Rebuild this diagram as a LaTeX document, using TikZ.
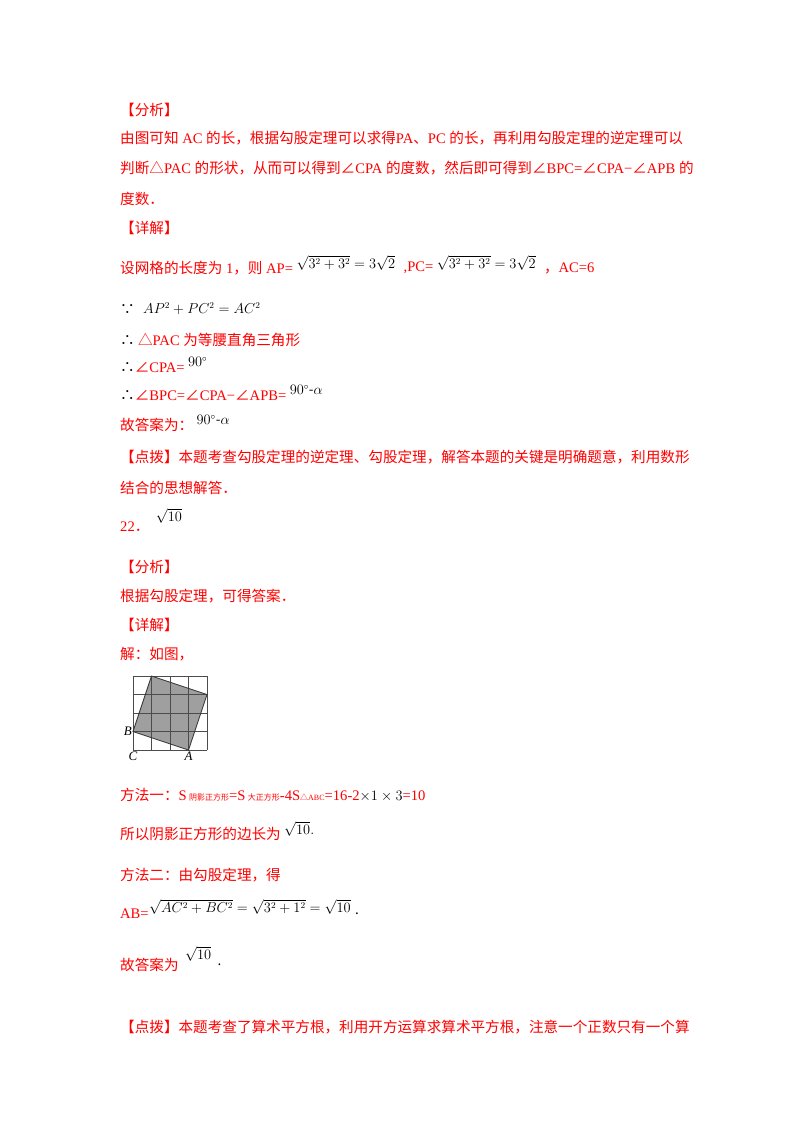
\documentclass[tikz,border=0pt]{standalone}
\usepackage{fontspec}
\setmainfont{Noto Sans CJK SC}
\newfontfamily\tms{Liberation Serif}
\newcommand{\ang}{{\rmfamily ∠}}
\newcommand{\tri}{{\rmfamily △}}
\begin{document}
\begin{tikzpicture}[x=1pt,y=-1pt,
  t/.style={anchor=west,inner sep=0pt,text=red,font=\fontsize{14.6}{16}\selectfont},
  m/.style={anchor=west,inner sep=0pt,text=black,font=\fontsize{13.5}{15}\selectfont},
  up/.style={yshift=5pt,xshift=3pt}]
\useasboundingbox[fill=white] (0,0) rectangle (800,1132);
\node[t] (l1) at (120,110) {【分析】};
\node[t] (l2) at (120,138) {由图可知{\tms\ AC }的长，根据勾股定理可以求得{\tms PA}、{\tms PC }的长，再利用勾股定理的逆定理可以};
\node[t] (l3) at (120,168) {判断\tri{\tms PAC }的形状，从而可以得到\ang{\tms CPA }的度数，然后即可得到\ang{\tms BPC=}\ang{\tms CPA−}\ang{\tms APB }的};
\node[t] (l4) at (120,199) {度数．};
\node[t] (l5) at (120,228) {【详解】};
\node[t] (l6) at (120,268) {设网格的长度为{\tms\ 1}，则{\tms\ AP=}};
\node[m,up] (m6a) at (l6.east) {$\sqrt{3^2+3^2}=3\sqrt{2}$};
\node[t,xshift=8pt] (l6b) at (m6a.east |- l6.east) {{\tms ,PC=}};
\node[m,up] (m6b) at (l6b.east) {$\sqrt{3^2+3^2}=3\sqrt{2}$};
\node[t,xshift=8pt] (l6c) at (m6b.east |- l6.east) {，{\tms AC=6}};
\node[t,text=black] (l7) at (120,310) {∵};
\node[m] (m7) at (143,309) {$AP^2+PC^2=AC^2$};
\node[t] (l8) at (120,340) {\textcolor{black}{∴} \tri{\tms PAC }为等腰直角三角形};
\node[t] (l9) at (120,367) {\textcolor{black}{∴}\ang{\tms CPA=}};
\node[m,up] (m9) at (l9.east) {$90^\circ$};
\node[t] (l10) at (120,395) {\textcolor{black}{∴}\ang{\tms BPC=}\ang{\tms CPA−}\ang{\tms APB=}};
\node[m,up] (m10) at (l10.east) {$90^\circ$-$\alpha$};
\node[t] (l11) at (120,425) {故答案为：};
\node[m,up] (m11) at (l11.east) {$90^\circ$-$\alpha$};
\node[t] (l12) at (120,457) {【点拨】本题考查勾股定理的逆定理、勾股定理，解答本题的关键是明确题意，利用数形};
\node[t] (l13) at (120,488) {结合的思想解答．};
\node[t] (l14) at (120,527) {{\tms 22}．};
\node[m,yshift=11pt,xshift=6pt] (m14) at (l14.east) {$\sqrt{10}$};
\node[t] (l15) at (120,567) {【分析】};
\node[t] (l16) at (120,596) {根据勾股定理，可得答案．};
\node[t] (l17) at (120,625) {【详解】};
\node[t] (l18) at (120,654) {解：如图，};
% grid figure
\coordinate (C) at (133,750);
\begin{scope}[shift={(C)},x=18.5pt,y=18.5pt]
  \coordinate (P1) at (1,4); \coordinate (P2) at (4,3);
  \coordinate (A) at (3,0); \coordinate (B) at (0,1);
  \fill[gray!75] (P1) -- (P2) -- (A) -- (B) -- cycle;
  \draw[black!70,line width=0.5pt,step=18.5pt] (0,0) grid (4,4);
  \draw[black!80,line width=0.8pt] (P1) -- (P2) -- (A) -- (B) -- cycle;
\end{scope}
\node[font=\tms\itshape\fontsize{13}{14}\selectfont,anchor=east,inner sep=1pt] (Bl) at (B) {B};
\node[font=\tms\itshape\fontsize{13}{14}\selectfont,anchor=north,inner sep=2pt] (Cl) at (C) {C};
\node[font=\tms\itshape\fontsize{13}{14}\selectfont,anchor=north,inner sep=2pt] (Al) at (A) {A};
\node[t] (l19) at (120,795) {方法一：{\tms S}\,{\fontsize{8}{9}\selectfont 阴影正方形}{\tms =S}\,{\fontsize{8}{9}\selectfont 大正方形}{\tms -4S}{\fontsize{8}{9}\selectfont\tri{\tms ABC}}{\tms =16-2}\textcolor{black}{$\times1\times3$}{\tms =10}};
\node[t] (l20) at (120,834) {所以阴影正方形的边长为};
\node[m,up] (m20) at (l20.east) {$\sqrt{10}.$};
\node[t] (l21) at (120,875) {方法二：由勾股定理，得};
\node[t] (l22) at (120,914) {{\tms AB=}};
\node[m,yshift=7pt] (m22) at (l22.east) {$\sqrt{AC^2+BC^2}=\sqrt{3^2+1^2}=\sqrt{10}$};
\node[m,xshift=4pt] (m22b) at (m22.east |- l22.east) {.};
\node[t] (l23) at (120,965) {故答案为};
\node[m,yshift=11pt,xshift=6pt] (m23) at (l23.east) {$\sqrt{10}$};
\node[m,xshift=6pt] (m23b) at (m23.east |- l23.east) {.};
\node[t] (l24) at (120,1027) {【点拨】本题考查了算术平方根，利用开方运算求算术平方根，注意一个正数只有一个算};
\end{tikzpicture}
\end{document}
